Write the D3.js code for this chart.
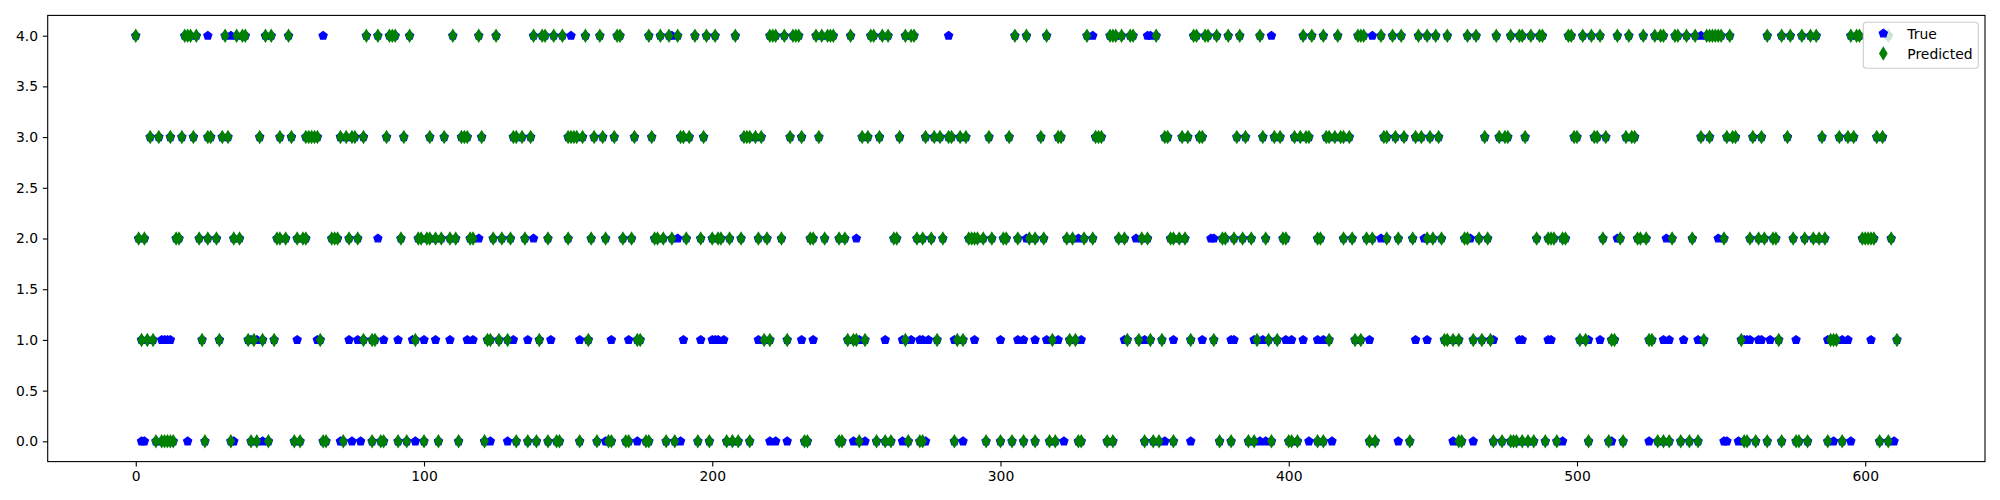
<!DOCTYPE html>
<html><head><meta charset="utf-8">
<script src="https://cdn.jsdelivr.net/npm/d3@7"></script>
<style>body{margin:0;background:#fff}svg{display:block}text{font-family:"DejaVu Sans",sans-serif}</style>
</head><body><svg id="c" width="2000" height="500"></svg>
<script>
// Sample indices whose Predicted value sits on each level
const pred4 = [0,17,18,19,21,31,35,37,38,45,47,53,80,84,88,89,90,95,110,119,125,138,141,142,145,148,156,161,167,168,178,182,185,188,194,198,201,208,220,221,222,225,228,229,230,236,238,240,241,242,248,255,256,259,261,267,269,270,305,309,316,330,338,339,340,342,345,346,354,367,368,371,372,375,379,383,390,405,408,412,417,424,425,426,432,436,439,445,448,451,455,462,465,472,477,480,481,484,487,488,497,498,502,505,508,514,518,523,527,529,530,534,535,538,541,545,546,547,548,549,550,553,566,571,574,578,581,583,595,597,598,608];
const pred3 = [5,8,12,16,20,25,26,30,32,43,50,54,59,60,61,62,63,71,73,75,76,79,87,93,102,107,113,114,115,120,131,132,134,137,150,151,152,153,155,159,162,166,173,179,189,190,192,197,211,212,213,215,217,227,231,237,252,254,258,265,274,277,279,282,283,286,288,296,303,314,320,321,333,334,335,357,358,363,365,369,370,382,385,391,395,397,402,404,406,407,413,414,416,418,419,421,433,434,437,440,444,446,449,452,468,473,475,476,482,499,500,506,507,510,517,519,520,543,546,552,554,555,561,564,573,585,591,594,596,604,606];
const pred2 = [1,3,14,15,22,25,28,34,36,49,50,52,56,58,59,68,69,70,74,77,92,98,99,101,102,104,106,109,111,116,117,124,127,130,135,143,150,158,163,169,172,180,181,183,186,191,196,200,202,203,206,210,216,219,224,234,235,239,244,246,263,264,271,273,276,280,289,290,291,292,294,297,301,302,306,310,312,315,323,325,329,332,341,343,349,351,359,360,362,364,377,378,381,384,387,392,398,399,410,411,419,422,427,429,434,438,443,448,450,453,461,462,466,469,486,490,491,492,495,496,509,515,521,522,524,533,540,551,560,563,565,568,569,575,579,582,584,586,599,600,601,602,603,609];
const pred1 = [2,4,6,23,29,39,41,44,48,64,79,82,83,97,122,123,126,129,140,157,174,175,218,220,226,247,249,250,253,267,278,285,287,318,324,326,344,348,352,356,366,374,389,393,396,414,423,425,454,455,457,459,464,467,470,501,503,512,513,525,526,544,557,570,588,589,590,611];
const pred0 = [7,9,10,11,12,13,24,33,40,42,46,55,57,65,66,72,82,85,86,91,94,100,105,112,121,132,136,139,143,146,147,154,160,164,165,170,171,177,178,184,187,195,199,205,207,209,213,232,233,244,245,251,257,260,262,268,272,273,284,295,300,304,308,312,317,319,327,328,337,339,350,353,355,360,376,380,386,388,394,400,401,403,410,412,428,430,442,459,460,471,474,477,478,479,481,483,485,489,493,504,511,516,528,530,532,536,539,542,558,559,562,566,571,576,577,580,587,592,605,608];
// Sample indices where the True value differs from the prediction (blue visible)
const trueOnly4 = [25,33,65,151,186,282,332,351,352,394,429,543];
const trueOnly3 = [];
const trueOnly2 = [84,119,138,188,250,309,327,347,373,374,432,447,463,514,531,549];
const trueOnly1 = [9,10,11,12,40,42,56,63,74,77,86,91,96,100,104,109,115,117,131,136,144,154,165,171,190,196,200,201,202,204,216,231,235,251,260,266,269,272,273,275,284,291,300,306,308,312,316,320,328,343,350,360,370,380,381,388,391,399,401,405,410,412,428,444,448,471,480,481,490,491,504,508,530,532,537,542,558,559,560,563,564,567,576,587,592,594,602];
const trueOnly0 = [2,3,18,34,44,71,75,78,97,123,129,163,174,189,220,222,226,249,253,266,274,287,322,357,366,390,392,407,415,438,457,464,495,512,525,551,552,556,589,595,610];
const xTicks = [0,100,200,300,400,500,600];
const yTicks = [0,0.5,1,1.5,2,2.5,3,3.5,4];
const seriesNames = ["True","Predicted"];
const N = 612;

const predLevels = [pred0,pred1,pred2,pred3,pred4];
const trueOnlyLevels = [trueOnly0,trueOnly1,trueOnly2,trueOnly3,trueOnly4];
const predPts = [], truePts = [];
predLevels.forEach((arr,lv)=>arr.forEach(i=>{predPts.push([i,lv]); truePts.push([i,lv]);}));
trueOnlyLevels.forEach((arr,lv)=>arr.forEach(i=>truePts.push([i,lv])));

const svg = d3.select("#c");
const L=47.7,R=1985,T=15.4,B=461.6;
const pad=(N-1)*0.05;
const x = d3.scaleLinear().domain([-pad,N-1+pad]).range([L,R]);
const y = d3.scaleLinear().domain([-0.2,4.2]).range([B,T]);

const ms=8.333, lw=1.39;
function pentagon(r){const p=[];for(let k=0;k<5;k++){const a=-Math.PI/2+k*2*Math.PI/5;p.push([r*Math.cos(a),r*Math.sin(a)]);}return "M"+p.map(q=>q.join(",")).join("L")+"Z";}
const hd=ms*Math.SQRT1_2, wd=hd*0.6;
const diamond=`M0,${-hd}L${wd},0L0,${hd}L${-wd},0Z`;
const pent=pentagon(ms/2);

const gT=svg.append("g");
gT.selectAll("path").data(truePts).join("path").attr("d",pent)
 .attr("transform",d=>`translate(${x(d[0])},${y(d[1])})`)
 .attr("fill","#0000ff").attr("stroke","#0000ff").attr("stroke-width",lw).attr("stroke-linejoin","miter");
const gP=svg.append("g");
gP.selectAll("path").data(predPts).join("path").attr("d",diamond)
 .attr("transform",d=>`translate(${x(d[0])},${y(d[1])})`)
 .attr("fill","#008000").attr("stroke","#008000").attr("stroke-width",lw).attr("stroke-linejoin","miter");

const fs="13.9px";
const xa=svg.append("g").attr("transform",`translate(0,${B})`)
 .call(d3.axisBottom(x).tickValues(xTicks).tickFormat(d3.format("d")).tickSize(4.86).tickPadding(4.86).tickSizeOuter(0));
const ya=svg.append("g").attr("transform",`translate(${L},0)`)
 .call(d3.axisLeft(y).tickValues(yTicks).tickFormat(d3.format(".1f")).tickSize(4.86).tickPadding(4.86).tickSizeOuter(0));
[xa,ya].forEach(a=>{a.select(".domain").remove();a.selectAll("line").attr("stroke","#000").attr("stroke-width",1.1);
 a.selectAll("text").attr("font-size",fs).attr("fill","#000").attr("font-family","DejaVu Sans");});
svg.append("rect").attr("x",L).attr("y",T).attr("width",R-L).attr("height",B-T)
 .attr("fill","none").attr("stroke","#000").attr("stroke-width",1.1);

// legend
const lg=svg.append("g");
lg.append("rect").attr("x",1863.3).attr("y",22.3).attr("width",115).attr("height",46).attr("rx",3)
 .attr("fill","#fff").attr("fill-opacity",0.8).attr("stroke","#cccccc").attr("stroke-width",1.1);
const shapes=[{d:pent,c:"#0000ff"},{d:diamond,c:"#008000"}];
seriesNames.forEach((n,i)=>{
 const yy=33.5+i*20;
 lg.append("path").attr("d",shapes[i].d).attr("transform",`translate(1883.3,${yy})`)
  .attr("fill",shapes[i].c).attr("stroke",shapes[i].c).attr("stroke-width",lw);
 lg.append("text").attr("x",1907.3).attr("y",yy).attr("dy","0.36em").attr("font-size",fs).text(n);
});
</script></body></html>
